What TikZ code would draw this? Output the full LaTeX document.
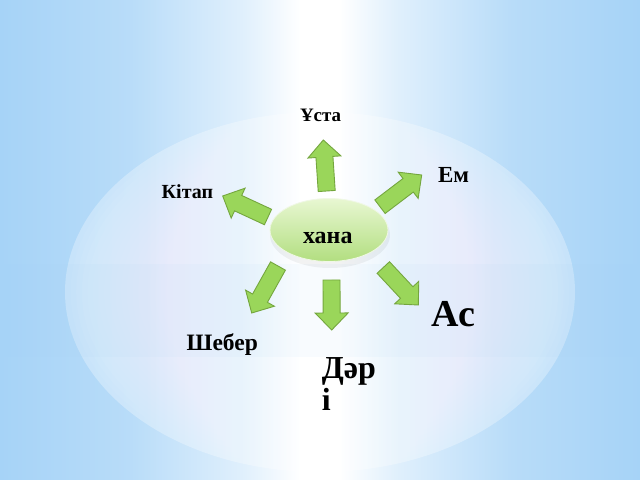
\documentclass[tikz,border=0pt]{standalone}
\usepackage{fontspec}
\setmainfont{Liberation Serif}
\usetikzlibrary{calc,shapes.geometric}
\definecolor{bgblue}{RGB}{166,211,247}
\definecolor{arrfill}{RGB}{154,214,90}
\definecolor{arrline}{RGB}{116,166,62}
\definecolor{elltop}{RGB}{232,247,210}
\definecolor{ellbot}{RGB}{178,222,128}
\pgfdeclarehorizontalshading{bgsh}{100bp}{color(0bp)=(bgblue); color(25bp)=(bgblue);
  color(35bp)=(bgblue!80!white); color(44bp)=(bgblue!35!white); color(48.5bp)=(white);
  color(51.5bp)=(white); color(56bp)=(bgblue!35!white); color(65bp)=(bgblue!80!white);
  color(75bp)=(bgblue); color(100bp)=(bgblue)}
\newcommand\blockarr[2]{%
  \coordinate (hd) at ($(#2)!17bp!(#1)$);
  \filldraw[arrowbody]
    ($(#1)!8.5bp!90:(#2)$) -- ($(hd)!8.5bp!-90:(#1)$) -- ($(hd)!16.5bp!-90:(#1)$) --
    (#2) -- ($(hd)!16.5bp!90:(#1)$) -- ($(hd)!8.5bp!90:(#1)$) --
    ($(#1)!8.5bp!-90:(#2)$) -- cycle;}
\tikzset{
  arrowbody/.style={fill=arrfill, draw=arrline, line width=0.9bp, line join=miter},
  lbl/.style={anchor=base west, inner sep=0pt, outer sep=0pt, font=\bfseries},
  glow/.style={fill=white, opacity=0.045},
}
\begin{document}
\begin{tikzpicture}[x=1bp,y=-1bp]
\useasboundingbox (0,0) rectangle (640,480);
% background
\shade[shading=bgsh] (0,0) rectangle (640,480);
\fill[white, opacity=0.3] (320,292) ellipse (255 and 180);
\foreach \i in {1,...,24}{
  \pgfmathsetmacro\s{1-0.022*\i}
  \fill[glow] (320,292) ellipse ({255*\s} and {180*\s});
}
\fill[bgblue, opacity=0.07] (0,264) rectangle (640,357);
% centre
\fill[black, opacity=0.05] (330,235) ellipse (60 and 33);
\node[ellipse, minimum width=118bp, minimum height=63bp, inner sep=0pt,
      top color=elltop, bottom color=ellbot, draw=white!80!ellbot, line width=0.8bp] (hub) at (329,230) {};
\node[lbl, font=\bfseries\fontsize{24bp}{26bp}\selectfont] (hana) at (303,243.3) {хана};
% arrows
\coordinate (uS) at (326.7,191); \coordinate (uE) at (323.3,140);
\coordinate (urS) at (380,206.7); \coordinate (urE) at (421.7,175);
\coordinate (lS) at (268,217); \coordinate (lE) at (222.7,196);
\coordinate (llS) at (278,266); \coordinate (llE) at (251.7,313);
\coordinate (dS) at (331.5,280); \coordinate (dE) at (331.7,330);
\coordinate (lrS) at (383.3,267.5); \coordinate (lrE) at (418.3,305);
\blockarr{uS}{uE}
\blockarr{urS}{urE}
\blockarr{lS}{lE}
\blockarr{llS}{llE}
\blockarr{dS}{dE}
\blockarr{lrS}{lrE}
% labels
\node[lbl, font=\bfseries\fontsize{19bp}{20bp}\selectfont] (usta) at (300,122) {Ұста};
\node[lbl, font=\bfseries\fontsize{23bp}{25bp}\selectfont] (em) at (438,183) {Ем};
\node[lbl, font=\bfseries\fontsize{20bp}{22bp}\selectfont] (kitap) at (161.7,198.3) {Кітап};
\node[lbl, font=\bfseries\fontsize{23.5bp}{25bp}\selectfont] (sheber) at (186.7,350) {Шебер};
\node[lbl, font=\bfseries\fontsize{38bp}{40bp}\selectfont] (as) at (431.7,326) {Ас};
\node[anchor=north west, inner sep=0pt, align=left, font=\bfseries\fontsize{32bp}{32bp}\selectfont] (dari) at (321.7,357) {Дәр\\і};
\end{tikzpicture}
\end{document}
